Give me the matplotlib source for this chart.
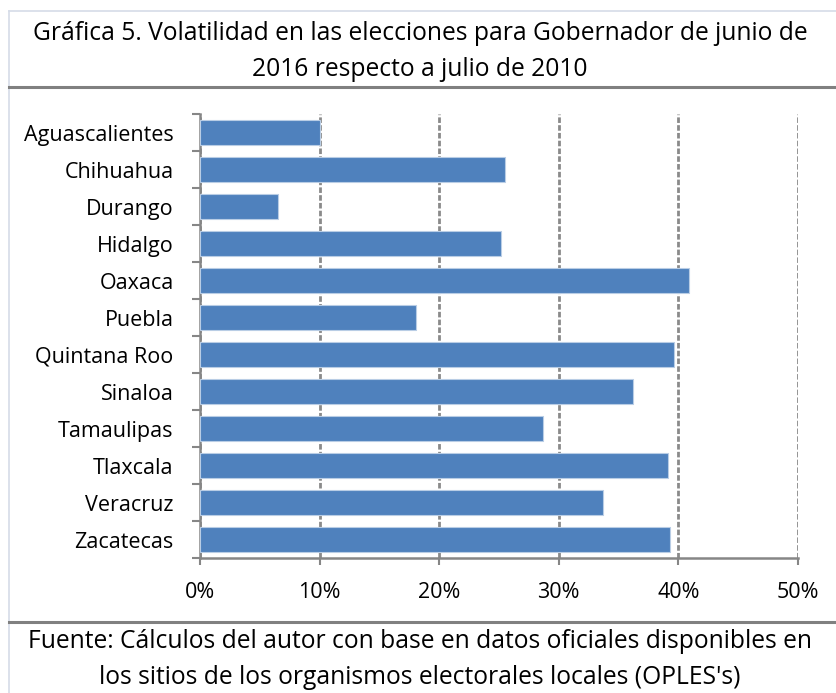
import matplotlib
matplotlib.use('Agg')
import matplotlib.pyplot as plt
from matplotlib import font_manager
from matplotlib.lines import Line2D
from matplotlib.ticker import FuncFormatter

estados = ['Aguascalientes', 'Chihuahua', 'Durango', 'Hidalgo', 'Oaxaca', 'Puebla',
           'Quintana Roo', 'Sinaloa', 'Tamaulipas', 'Tlaxcala', 'Veracruz', 'Zacatecas']
volatilidad = [10.0, 25.5, 6.5, 25.2, 40.9, 18.1, 39.6, 36.2, 28.7, 39.1, 33.7, 39.3]
x_ticks = [0, 10, 20, 30, 40, 50]

titulo = ['Gráfica 5. Volatilidad en las elecciones para Gobernador de junio de',
          '2016 respecto a julio de 2010']
fuente = ['Fuente: Cálculos del autor con base en datos oficiales disponibles en',
          "los sitios de los organismos electorales locales (OPLES's)"]

installed = {f.name for f in font_manager.fontManager.ttflist}
family = next(f for f in ['Open Sans', 'DejaVu Sans'] if f in installed)
plt.rcParams['font.family'] = [family, 'DejaVu Sans']

W, H = 837, 693
fig = plt.figure(figsize=(W / 100, H / 100), dpi=100)
fig.patch.set_facecolor('white')


def fx(px):
    return px / W


def fy(px):
    return 1 - px / H


# chart area
ax = fig.add_axes([fx(200), fy(558), fx(798) - fx(200), fy(114) - fy(558)])
pos = list(range(len(estados)))
ax.barh(pos, volatilidad, height=0.65, color='#4F81BD', edgecolor='#B9CDE5', linewidth=0.8, zorder=3)
ax.set_ylim(len(estados) - 0.5, -0.5)
ax.set_xlim(0, 50)

# Excel-style category ticks: marks between bars, labels centred on bars
ax.set_yticks([p - 0.5 for p in pos] + [len(estados) - 0.5])
ax.set_yticklabels([])
ax.set_yticks(pos, minor=True)
ax.set_yticklabels(estados, minor=True)
ax.tick_params(axis='y', which='major', length=6, width=1.5, color='#868686', direction='out')
ax.tick_params(axis='y', which='minor', length=0, pad=19, labelsize=15.5)

ax.set_xticks(x_ticks)
ax.xaxis.set_major_formatter(FuncFormatter(lambda v, _: f'{v:.0f}%'))
ax.tick_params(axis='x', length=5, width=1.5, color='#868686', direction='out', pad=12, labelsize=15.5)

ax.grid(axis='x', color='#8A8A8A', linestyle=(0, (2, 0.8)), linewidth=2.0, zorder=1)
for side in ['top', 'right']:
    ax.spines[side].set_visible(False)
for side in ['left', 'bottom']:
    ax.spines[side].set_color('#868686')
    ax.spines[side].set_linewidth(1.8)

# frame lines
fig.add_artist(Line2D([fx(9), 1], [fy(11), fy(11)], color='#D5DCE8', lw=1.2))
fig.add_artist(Line2D([fx(9), fx(9)], [fy(11), 0], color='#D5DCE8', lw=1.2))
fig.add_artist(Line2D([fx(9), 1], [fy(87), fy(87)], color='#808080', lw=2.2))
fig.add_artist(Line2D([fx(9), 1], [fy(622), fy(622)], color='#808080', lw=2.2))

fig.text(fx(420), fy(33), titulo[0], ha='center', va='center', fontsize=17.7)
fig.text(fx(420), fy(70), titulo[1], ha='center', va='center', fontsize=17.7)
fig.text(fx(420), fy(642), fuente[0], ha='center', va='center', fontsize=17.7)
fig.text(fx(420), fy(677), fuente[1], ha='center', va='center', fontsize=17.7)

fig.savefig('out.png', dpi=100, facecolor='white')
